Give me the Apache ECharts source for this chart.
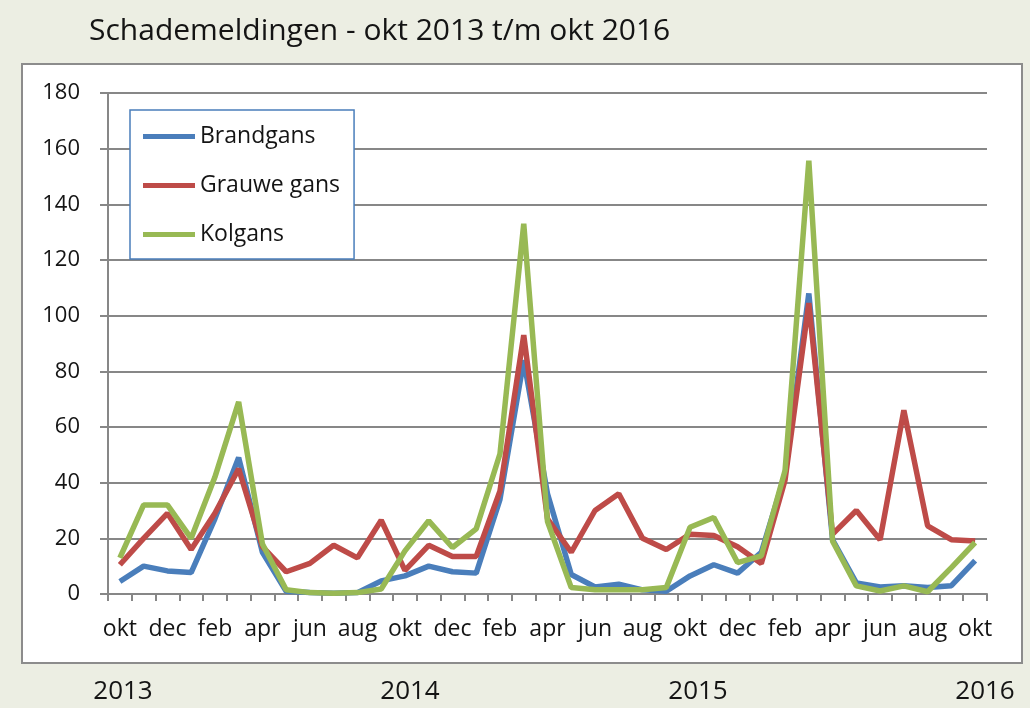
<!DOCTYPE html>
<html>
<head>
<meta charset="utf-8">
<script src="https://cdn.jsdelivr.net/npm/echarts@6/dist/echarts.min.js"></script>
<style>
  html, body { margin: 0; padding: 0; background: #eceee3; }
  #chart { width: 1030px; height: 708px; }
</style>
</head>
<body>
<div id="chart"></div>
<script>
  // maanden okt 2013 t/m okt 2016
  let months = [
    'okt', 'nov', 'dec', 'jan', 'feb', 'mrt', 'apr', 'mei', 'jun', 'jul', 'aug', 'sep',
    'okt', 'nov', 'dec', 'jan', 'feb', 'mrt', 'apr', 'mei', 'jun', 'jul', 'aug', 'sep',
    'okt', 'nov', 'dec', 'jan', 'feb', 'mrt', 'apr', 'mei', 'jun', 'jul', 'aug', 'sep',
    'okt'
  ];
  let brandgans = [
    4.5, 10, 8.3, 7.7, 27, 49, 15, 1, 0.5, 0.3, 0.5, 4.7,
    6.5, 10, 8, 7.5, 34, 84, 36, 7, 2.5, 3.5, 1.5, 1,
    6.5, 10.5, 7.5, 15, 43, 108, 19.5, 4, 2.5, 3, 2.3, 3,
    12
  ];
  let grauweGans = [
    10.5, 20, 29, 16, 29, 45, 17, 8, 11, 17.5, 13, 26.5,
    8.5, 17.5, 13.5, 13.5, 37, 93, 27, 15, 30, 36, 20, 16,
    21.5, 21, 17, 11, 41, 104.5, 21.5, 30, 19.5, 66, 24.5, 19.5,
    19
  ];
  let kolgans = [
    13, 32, 32, 20, 42, 69, 18, 1.5, 0.5, 0.3, 0.5, 1.8,
    15.5, 26.3, 16.7, 23.4, 50.4, 133, 26, 2.3, 1.5, 1.5, 1.5, 2.3,
    24, 27.5, 11.3, 13.7, 44.4, 155.7, 19, 2.9, 1.1, 2.9, 0.8, 9.5,
    18.5
  ];
  let years = ['2013', '2014', '2015', '2016'];
  let yearX = [123, 410, 698, 985];

  let font = '"Open Sans", Lato, sans-serif';
  let textColor = '#141414';
  let gridColor = '#878787';

  let myChart = echarts.init(document.getElementById('chart'));

  let yearTexts = years.map((y, i) => {
    return {
      type: 'text',
      x: yearX[i],
      y: 692,
      style: {
        text: y,
        fill: textColor,
        font: '26px ' + font,
        textAlign: 'center',
        textVerticalAlign: 'middle'
      }
    };
  });

  let option = {
    backgroundColor: '#eceee3',
    color: ['#4a7ebb', '#be4b48', '#98b954'],
    animation: false,
    title: {
      text: 'Schademeldingen - okt 2013 t/m okt 2016',
      left: 84,
      top: 11,
      textStyle: {
        fontFamily: font,
        fontSize: 30,
        fontWeight: 'normal',
        color: textColor
      }
    },
    graphic: [
      {
        type: 'rect',
        z: -10,
        shape: { x: 22, y: 64, width: 1000, height: 599 },
        style: { fill: '#ffffff', stroke: '#8c8c8c', lineWidth: 2 }
      }
    ].concat(yearTexts),
    legend: {
      orient: 'vertical',
      left: 130,
      top: 110,
      padding: [15, 14, 13, 13],
      itemGap: 26,
      itemWidth: 52,
      itemHeight: 5,
      icon: 'rect',
      backgroundColor: '#ffffff',
      borderColor: '#4a7ebb',
      borderWidth: 1.5,
      textStyle: {
        fontFamily: font,
        fontSize: 23,
        color: textColor
      },
      data: ['Brandgans', 'Grauwe gans', 'Kolgans']
    },
    grid: {
      left: 108,
      right: 43,
      top: 93,
      bottom: 114,
      containLabel: false
    },
    xAxis: {
      type: 'category',
      data: months,
      boundaryGap: true,
      axisLine: { lineStyle: { color: gridColor, width: 2 } },
      axisTick: {
        show: true,
        interval: 0,
        length: 7,
        lineStyle: { color: gridColor, width: 2 }
      },
      axisLabel: {
        interval: 1,
        margin: 24,
        fontFamily: font,
        fontSize: 23,
        color: textColor
      }
    },
    yAxis: {
      type: 'value',
      min: 0,
      max: 180,
      interval: 20,
      axisLine: { show: true, lineStyle: { color: gridColor, width: 2 } },
      axisTick: {
        show: true,
        length: 8,
        lineStyle: { color: gridColor, width: 2 }
      },
      axisLabel: {
        margin: 28,
        fontFamily: font,
        fontSize: 22,
        color: textColor
      },
      splitLine: { lineStyle: { color: gridColor, width: 2 } }
    },
    series: [
      {
        name: 'Brandgans',
        type: 'line',
        data: brandgans,
        showSymbol: false,
        lineStyle: { width: 5.5 }
      },
      {
        name: 'Grauwe gans',
        type: 'line',
        data: grauweGans,
        showSymbol: false,
        lineStyle: { width: 5.5 }
      },
      {
        name: 'Kolgans',
        type: 'line',
        data: kolgans,
        showSymbol: false,
        lineStyle: { width: 5.5 }
      }
    ]
  };
  myChart.setOption(option);
</script>
</body>
</html>
